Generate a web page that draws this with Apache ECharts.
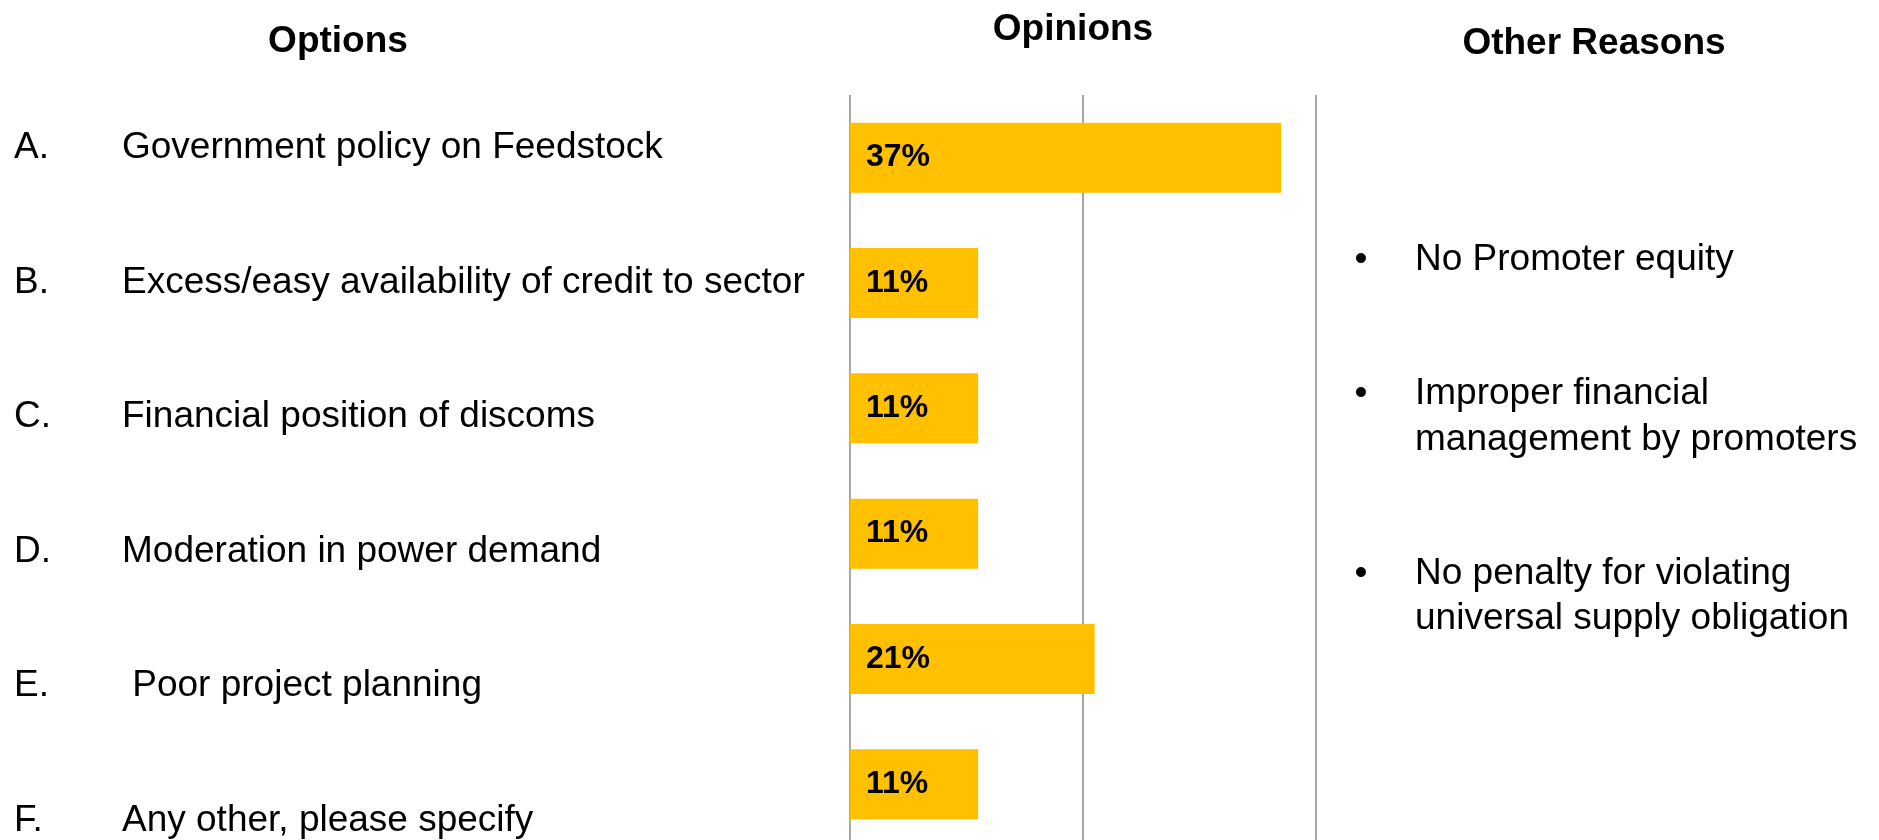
<!DOCTYPE html>
<html>
<head>
<meta charset="utf-8">
<script src="https://cdn.jsdelivr.net/npm/echarts@6/dist/echarts.min.js"></script>
<style>
  html, body { margin: 0; padding: 0; background: #ffffff; }
  #chart { width: 1879px; height: 840px; }
</style>
</head>
<body>
<div id="chart"></div>
<script>
// Survey options (letter + wording), share of opinions per option, and free-text reasons
const letters = ['A.', 'B.', 'C.', 'D.', 'E.', 'F.'];
const optionTexts = [
  'Government policy on Feedstock',
  'Excess/easy availability of credit to sector',
  'Financial position of discoms',
  'Moderation in power demand',
  ' Poor project planning',
  'Any other, please specify'
];
const opinionShare = [37, 11, 11, 11, 21, 11];
const shareTicks = [0, 20, 40];
const headers = ['Options', 'Opinions', 'Other Reasons'];
const otherReasons = [
  ['No Promoter equity'],
  ['Improper financial', 'management by promoters'],
  ['No penalty for violating', 'universal supply obligation']
];

const FONT = '"Liberation Sans", Arial, Helvetica, sans-serif';
const chart = echarts.init(document.getElementById('chart'), null, { renderer: 'canvas' });

// Column headers
const headerPos = [[338, 42], [1073, 30], [1594, 44]];
const graphics = headers.map((h, i) => ({
  type: 'text',
  x: headerPos[i][0],
  y: headerPos[i][1],
  silent: true,
  style: {
    text: h,
    font: 'bold 37px ' + FONT,
    fill: '#000000',
    textAlign: 'center',
    textVerticalAlign: 'middle'
  }
}));

// Bulleted list of other reasons, stacked with a paragraph gap
let y = 260;
const lineStep = 45.8;
const paraGap = 88;
otherReasons.forEach(lines => {
  graphics.push({
    type: 'text', x: 1361, y: y, silent: true,
    style: { text: '\u2022', font: '37px ' + FONT, fill: '#000000', textAlign: 'center', textVerticalAlign: 'middle' }
  });
  lines.forEach(line => {
    graphics.push({
      type: 'text', x: 1415, y: y, silent: true,
      style: { text: line, font: '37px ' + FONT, fill: '#000000', textAlign: 'left', textVerticalAlign: 'middle' }
    });
    y += lineStep;
  });
  y += paraGap;
});

const option = {
  animation: false,
  backgroundColor: '#ffffff',
  textStyle: { fontFamily: FONT },
  grid: [
    { left: 850, top: 95, width: 466, height: 752, containLabel: false, outerBoundsMode: 'none' },
    { left: 14, top: 81, width: 10, height: 807, containLabel: false, outerBoundsMode: 'none' }
  ],
  xAxis: [
    {
      gridIndex: 0,
      type: 'value',
      min: shareTicks[0],
      max: shareTicks[shareTicks.length - 1],
      interval: shareTicks[1] - shareTicks[0],
      axisLine: { show: false },
      axisTick: { show: false },
      axisLabel: { show: false },
      splitLine: { show: true, lineStyle: { color: '#a6a6a6', width: 2 } }
    },
    {
      gridIndex: 1,
      type: 'value',
      show: false
    }
  ],
  yAxis: [
    {
      gridIndex: 0,
      type: 'category',
      data: letters,
      inverse: true,
      axisLine: { show: false },
      axisTick: { show: false },
      axisLabel: { show: false },
      splitLine: { show: false }
    },
    {
      gridIndex: 1,
      type: 'category',
      data: letters,
      inverse: true,
      axisLine: { show: false },
      axisTick: { show: false },
      splitLine: { show: false },
      axisLabel: {
        show: true,
        margin: 0,
        align: 'left',
        formatter: (value, idx) => '{l|' + value + '}{t|' + optionTexts[idx] + '}',
        rich: {
          l: { width: 108, fontSize: 37, fontFamily: FONT, color: '#000000' },
          t: { fontSize: 37, fontFamily: FONT, color: '#000000' }
        }
      }
    }
  ],
  series: [
    {
      type: 'bar',
      xAxisIndex: 0,
      yAxisIndex: 0,
      data: opinionShare,
      barWidth: 70,
      silent: true,
      itemStyle: { color: '#FFC000' },
      label: {
        show: true,
        position: 'insideLeft',
        distance: 16,
        formatter: '{c}%',
        fontSize: 32,
        fontWeight: 'bold',
        fontFamily: FONT,
        color: '#000000'
      }
    }
  ],
  graphic: graphics
};

chart.setOption(option);
</script>
</body>
</html>
